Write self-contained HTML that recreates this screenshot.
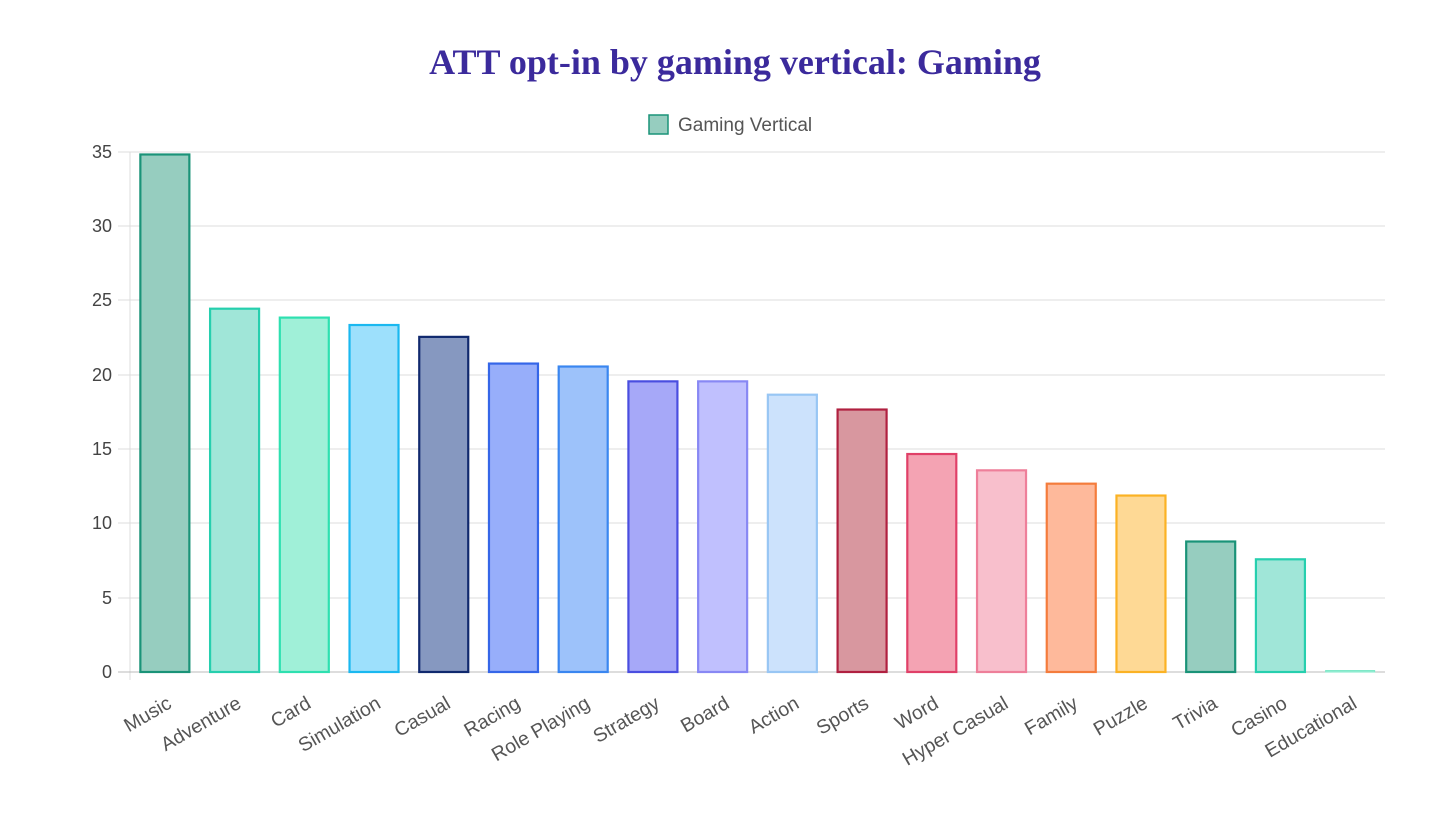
<!DOCTYPE html>
<html><head><meta charset="utf-8"><style>
body{margin:0;background:#fff;}
svg{display:block;}
</style></head><body>
<svg width="1456" height="814" xmlns="http://www.w3.org/2000/svg" font-family="Liberation Sans, sans-serif">
<text x="735" y="74" text-anchor="middle" font-family="Liberation Serif, serif" font-weight="bold" font-size="36" fill="#3b2a9c">ATT opt-in by gaming vertical: Gaming</text>
<rect x="649" y="115" width="19" height="19" fill="#96cdbf" stroke="#1a9378" stroke-width="1.5"/>
<text x="678" y="131" font-size="19" fill="#555">Gaming Vertical</text>
<g stroke="#dcdcdc" stroke-width="1">
<line x1="118" y1="152" x2="1385" y2="152"/>
<line x1="118" y1="226" x2="1385" y2="226"/>
<line x1="118" y1="300" x2="1385" y2="300"/>
<line x1="118" y1="375" x2="1385" y2="375"/>
<line x1="118" y1="449" x2="1385" y2="449"/>
<line x1="118" y1="523" x2="1385" y2="523"/>
<line x1="118" y1="598" x2="1385" y2="598"/>
<line x1="130" y1="152" x2="130" y2="680"/>
</g>
<line x1="118" y1="672" x2="1385" y2="672" stroke="#bbb"/>
<g font-size="18" fill="#444" text-anchor="end">
<text x="112" y="158">35</text><text x="112" y="232">30</text><text x="112" y="306">25</text><text x="112" y="381">20</text><text x="112" y="455">15</text><text x="112" y="529">10</text><text x="112" y="604">5</text><text x="112" y="678">0</text>
</g>
<g stroke-width="2.2" id="bars"></g>
<g font-size="19.5" fill="#555" text-anchor="end" id="labels"></g>
<script>
var d=[["Music",34.9,"#96cdbf","#1a9378"],["Adventure",24.5,"#a0e6d8","#26cfae"],["Card",23.9,"#a0f0d8","#2ee0b0"],["Simulation",23.4,"#9de0fc","#1ab8f0"],["Casual",22.6,"#8698c0","#10296e"],["Racing",20.8,"#97aefa","#3566e8"],["Role Playing",20.6,"#9dc2fa","#3a86f0"],["Strategy",19.6,"#a6a8f8","#4a4ee0"],["Board",19.6,"#c0c0fe","#8888f4"],["Action",18.7,"#cce2fc","#98c6f4"],["Sports",17.7,"#d8979f","#b02040"],["Word",14.7,"#f4a3b3","#e04068"],["Hyper Casual",13.6,"#f8bfcc","#ee7f9a"],["Family",12.7,"#feb99b","#f47c3c"],["Puzzle",11.9,"#fed995","#fbb224"],["Trivia",8.8,"#96cdbf","#1a9378"],["Casino",7.6,"#a0e6d8","#26cfae"],["Educational",0.1,"#a0f0d8","#7ee8c8"]];
var ns="http://www.w3.org/2000/svg",b=document.getElementById("bars"),l=document.getElementById("labels");
var w=1255/18,s=519/35;
d.forEach(function(r,i){var cx=130+w*(i+0.5),h=r[1]*s;
var e=document.createElementNS(ns,"rect");e.setAttribute("x",cx-24.5);e.setAttribute("y",672-h);e.setAttribute("width",49);e.setAttribute("height",h);e.setAttribute("fill",r[2]);e.setAttribute("stroke",r[3]);if(i==17)e.setAttribute("stroke-width","1");b.appendChild(e);
var t=document.createElementNS(ns,"text");t.setAttribute("x",cx+8);t.setAttribute("y",707);t.setAttribute("transform","rotate(-30 "+(cx+8)+" 707)");t.textContent=r[0];l.appendChild(t);});
</script>
</svg>
</body></html>
